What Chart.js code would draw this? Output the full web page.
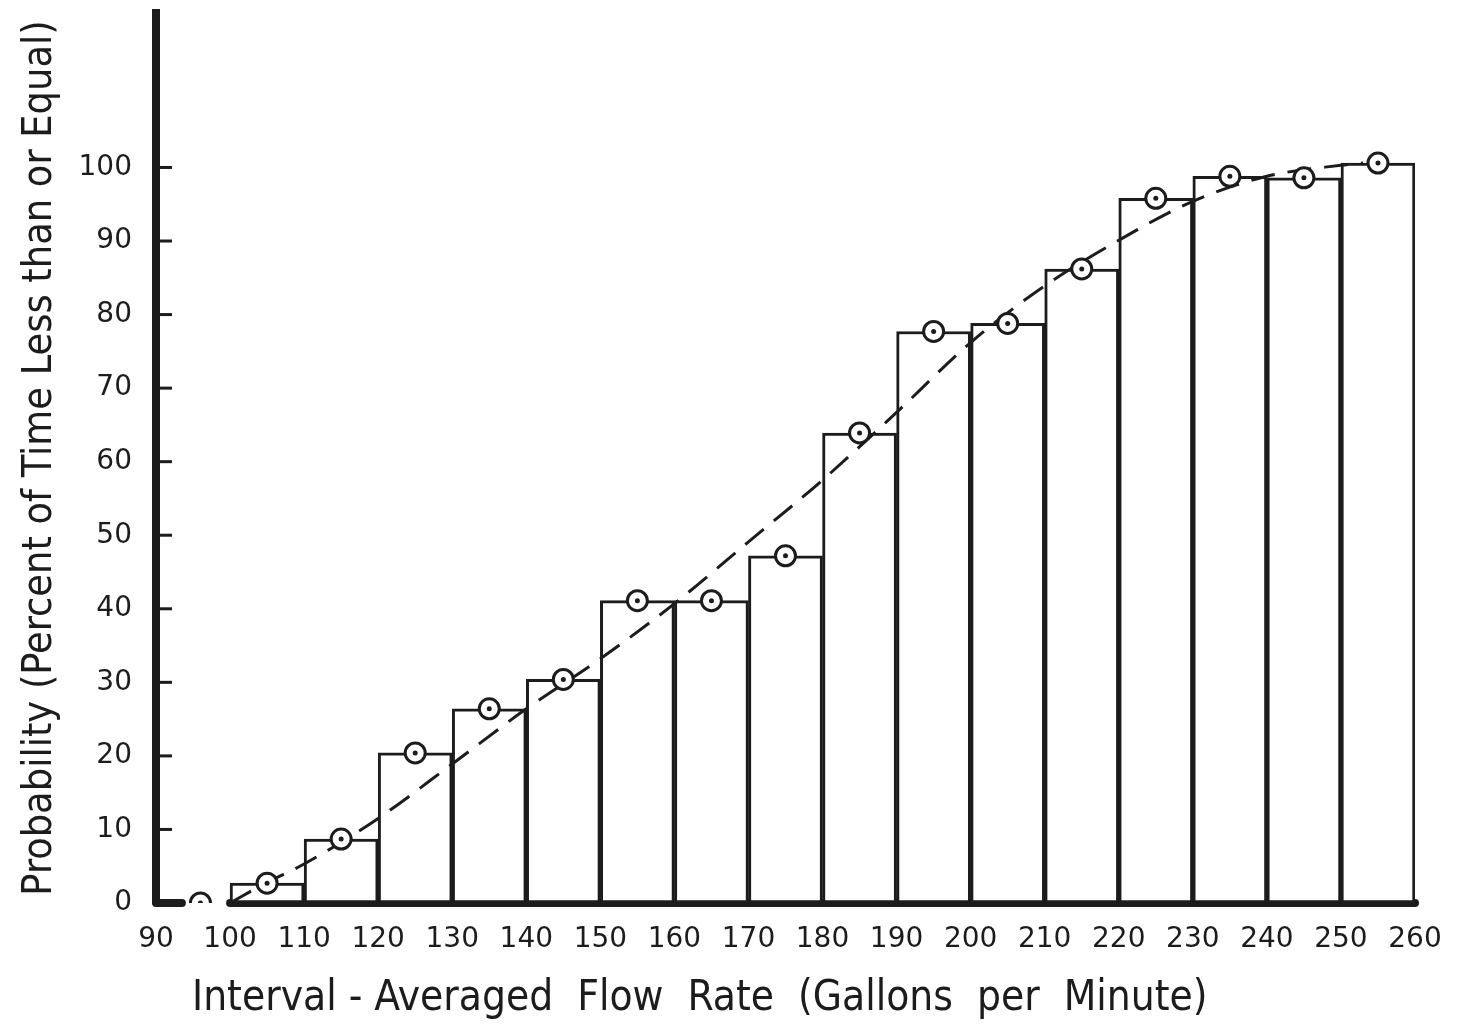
<!DOCTYPE html>
<html>
<head>
<meta charset="utf-8">
<script src="https://cdn.jsdelivr.net/npm/chart.js@4.4.1/dist/chart.umd.min.js"></script>
<style>
  html, body { margin: 0; padding: 0; background: #fff; }
  #wrap { width: 1469px; height: 1025px; }
</style>
</head>
<body>
<div id="wrap"><canvas id="myChart" width="1469" height="1025"></canvas></div>
<script>
// bin centres of the histogram (10 gpm wide bins, 100..260)
const binCenters = [105, 115, 125, 135, 145, 155, 165, 175, 185, 195, 205, 215, 225, 235, 245, 255];
const binValues  = [2.7, 8.7, 20.4, 26.4, 30.4, 41.1, 41.1, 47.2, 63.9, 77.7, 78.8, 86.2, 95.8, 98.8, 98.6, 100.6];

// plotted points (circles) : the bins plus the lone point below 100
const pointX = [96, 105, 115, 125, 135, 145, 155, 165, 175, 185, 195, 205, 215, 225, 235, 245, 255];
const pointY = [0, 2.7, 8.7, 20.4, 26.4, 30.4, 41.1, 41.1, 47.2, 63.9, 77.7, 78.8, 86.2, 95.8, 98.8, 98.6, 100.6];

// smooth dashed curve
const curveX = [100, 105, 110, 120, 130, 140, 150, 160, 170, 180, 190, 200, 210, 220, 230, 240, 250, 253];
const curveY = [0, 2.8, 5.3, 11.5, 18.9, 26.4, 33.2, 40.7, 49.1, 57.5, 66.7, 76.2, 83.9, 90.1, 95.4, 98.8, 100.3, 100.6];

// axis ticks
const xTicks = [90, 100, 110, 120, 130, 140, 150, 160, 170, 180, 190, 200, 210, 220, 230, 240, 250, 260];
const yTicks = [0, 10, 20, 30, 40, 50, 60, 70, 80, 90, 100];
const xAxisRuns = [[90, 93.5], [100, 260]];

const xTitle = 'Interval - Averaged  Flow  Rate  (Gallons  per  Minute)';
const yTitle = 'Probability (Percent of Time Less than or Equal)';

const ink = '#1c1c1c';
const tickFont = { family: '"DejaVu Sans"', size: 28 };
const titleFamily = '"DejaVu Sans Condensed", "Liberation Sans Narrow", "DejaVu Sans"';

const toXY = (xs, ys) => xs.map((v, i) => ({ x: v, y: ys[i] }));

// axis lines, inner tick marks and the x title
const axisDecor = {
  id: 'axisDecor',
  beforeDatasetsDraw(chart) {
    const { ctx, chartArea, scales: { x, y } } = chart;
    ctx.save();
    ctx.strokeStyle = ink;
    ctx.lineCap = 'round';
    ctx.lineWidth = 8;
    const y0 = y.getPixelForValue(0);
    xAxisRuns.forEach(([a, b]) => {
      ctx.beginPath();
      ctx.moveTo(x.getPixelForValue(a), y0);
      ctx.lineTo(x.getPixelForValue(b), y0);
      ctx.stroke();
    });
    ctx.lineCap = 'butt';
    ctx.lineWidth = 3;
    yTicks.filter(v => v > 0).forEach(v => {
      const py = y.getPixelForValue(v);
      ctx.beginPath();
      ctx.moveTo(chartArea.left, py);
      ctx.lineTo(chartArea.left + 16, py);
      ctx.stroke();
    });
    ctx.restore();
  },
  afterDraw(chart) {
    const { ctx, chartArea } = chart;
    ctx.save();
    ctx.fillStyle = ink;
    ctx.font = '42px ' + titleFamily;
    ctx.textAlign = 'left';
    ctx.textBaseline = 'middle';
    ctx.fillText(xTitle, chartArea.left + 36, 999);
    ctx.restore();
  }
};

const ctx = document.getElementById('myChart').getContext('2d');
const myChart = new Chart(ctx, {
  type: 'bar',
  data: {
    datasets: [
      {
        type: 'scatter',
        data: toXY(pointX, pointY),
        pointRadius: 2.5,
        pointBackgroundColor: ink,
        pointBorderWidth: 0,
        order: 0
      },
      {
        type: 'scatter',
        data: toXY(pointX, pointY),
        pointRadius: 10,
        pointBackgroundColor: '#fff',
        pointBorderColor: ink,
        pointBorderWidth: 3,
        order: 1
      },
      {
        type: 'line',
        data: toXY(curveX, curveY),
        borderColor: ink,
        borderWidth: 3,
        borderDash: [24, 13],
        pointRadius: 0,
        fill: false,
        cubicInterpolationMode: 'monotone',
        order: 2
      },
      {
        type: 'bar',
        data: toXY(binCenters, binValues),
        backgroundColor: '#fff',
        borderColor: ink,
        borderWidth: 3,
        borderSkipped: false,
        barPercentage: 1,
        categoryPercentage: 1,
        order: 3
      }
    ]
  },
  options: {
    responsive: false,
    animation: false,
    layout: { padding: { top: 9, right: 54, left: 0, bottom: 0 } },
    plugins: {
      legend: { display: false },
      tooltip: { enabled: false }
    },
    scales: {
      x: {
        type: 'linear',
        min: 90,
        max: 260,
        offset: false,
        grid: { display: false, offset: false },
        border: { display: false },
        afterBuildTicks: s => { s.ticks = xTicks.map(v => ({ value: v })); },
        afterFit: s => { s.height = 122; s.paddingLeft = 0; s.paddingRight = 0; },
        ticks: { color: ink, font: tickFont, padding: 12, maxRotation: 0, autoSkip: false }
      },
      y: {
        type: 'linear',
        min: 0,
        max: 121,
        grid: { display: false },
        border: { display: true, color: ink, width: 8 },
        afterBuildTicks: s => { s.ticks = yTicks.map(v => ({ value: v })); },
        afterFit: s => { s.width = 156; s.paddingTop = 0; s.paddingBottom = 0; },
        ticks: { color: ink, font: tickFont, padding: 16 },
        title: {
          display: true,
          text: yTitle,
          color: ink,
          font: { family: titleFamily, size: 41 },
          padding: { top: 16, bottom: 0 }
        }
      }
    }
  },
  plugins: [axisDecor]
});
</script>
</body>
</html>
